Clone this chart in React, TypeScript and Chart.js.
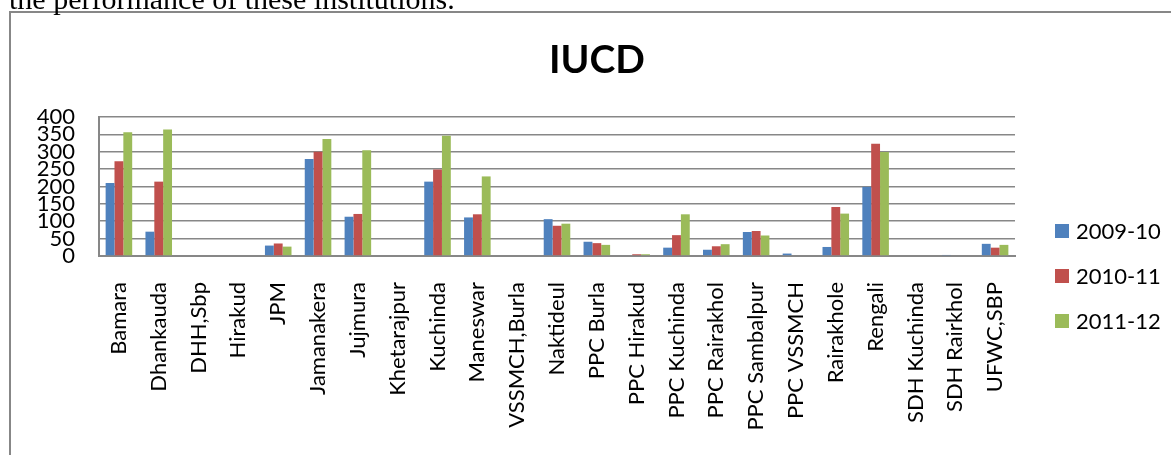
import React, { useEffect, useRef } from 'react';
import { Chart, registerables } from 'chart.js';

Chart.register(...registerables);

// Institutions along the x axis
const categories = [
  'Bamara', 'Dhankauda', 'DHH,Sbp', 'Hirakud', 'JPM', 'Jamanakera', 'Jujmura',
  'Khetarajpur', 'Kuchinda', 'Maneswar', 'VSSMCH,Burla', 'Naktideul', 'PPC Burla',
  'PPC Hirakud', 'PPC Kuchinda', 'PPC Rairakhol', 'PPC Sambalpur', 'PPC VSSMCH',
  'Rairakhole', 'Rengali', 'SDH Kuchinda', 'SDH Rairkhol', 'UFWC,SBP',
];

// IUCD insertions per year
const seriesLabels = ['2009-10', '2010-11', '2011-12'];
const values2009 = [210, 70, 0, 0, 30, 279, 113, 0, 214, 111, 0, 106, 41, 0, 24, 18, 69, 7, 26, 199, 0, 3, 35];
const values2010 = [273, 214, 0, 0, 36, 300, 121, 0, 249, 120, 0, 87, 37, 5, 60, 28, 72, 0, 141, 323, 0, 0, 24];
const values2011 = [356, 364, 0, 0, 27, 337, 304, 0, 346, 229, 0, 93, 32, 5, 120, 34, 59, 0, 122, 299, 0, 0, 32];
const seriesColors = ['#4F81BD', '#C0504D', '#9BBB59'];

const yTickValues = [0, 50, 100, 150, 200, 250, 300, 350, 400];
const chartTitle = 'IUCD';

const CANVAS_W = 1160;
const CANVAS_H = 442;
const PLOT = { left: 88, right: 1004, top: 104, bottom: 243 };
const AXIS_GRAY = '#878787';
const FONT = 'Lato, Calibri, "Noto Sans", sans-serif';

// Title and a right-hand legend column drawn on top of the chart
const titleAndLegend = {
  id: 'titleAndLegend',
  afterDraw(chart: any) {
    const ctx: CanvasRenderingContext2D = chart.ctx;
    ctx.save();
    ctx.fillStyle = '#000';
    ctx.font = `bold 39px ${FONT}`;
    ctx.textAlign = 'center';
    ctx.textBaseline = 'alphabetic';
    ctx.fillText(chartTitle, 586, 60);

    ctx.font = `22px ${FONT}`;
    ctx.textAlign = 'left';
    chart.data.datasets.forEach((ds: any, i: number) => {
      const rowTop = 211 + i * 45;
      ctx.fillStyle = ds.backgroundColor;
      ctx.fillRect(1044, rowTop, 14, 14);
      ctx.fillStyle = '#000';
      ctx.fillText(ds.label, 1065, rowTop + 14.5);
    });
    ctx.restore();
  },
};

export default function App() {
  const canvasRef = useRef<HTMLCanvasElement>(null);

  useEffect(() => {
    const seriesValues = [values2009, values2010, values2011];
    const chart = new Chart(canvasRef.current as HTMLCanvasElement, {
      type: 'bar',
      data: {
        labels: categories,
        datasets: seriesLabels.map((label, i) => ({
          label,
          data: seriesValues[i],
          backgroundColor: seriesColors[i],
          borderWidth: 0,
          barPercentage: 1,
          categoryPercentage: 0.667,
        })),
      },
      options: {
        responsive: false,
        animation: false,
        devicePixelRatio: 1,
        events: [],
        layout: {
          padding: { left: 0, top: PLOT.top, right: CANVAS_W - PLOT.right, bottom: 0 },
        },
        plugins: {
          legend: { display: false },
          title: { display: false },
          tooltip: { enabled: false },
        },
        scales: {
          x: {
            grid: { display: false, drawTicks: false },
            border: { display: true, color: AXIS_GRAY, width: 2 },
            ticks: {
              autoSkip: false,
              minRotation: 90,
              maxRotation: 90,
              padding: 26,
              color: '#000',
              font: { family: FONT, size: 22 },
            },
            afterFit(scale: any) {
              scale.height = CANVAS_H - PLOT.bottom;
            },
          },
          y: {
            min: 0,
            max: 400,
            afterBuildTicks(scale: any) {
              scale.ticks = yTickValues.map((value) => ({ value }));
            },
            ticks: {
              autoSkip: false,
              padding: 24,
              color: '#000',
              font: { family: FONT, size: 22 },
            },
            grid: { color: AXIS_GRAY, lineWidth: 1.6, drawTicks: false },
            border: { display: true, color: AXIS_GRAY, width: 2 },
            afterFit(scale: any) {
              scale.width = PLOT.left;
            },
          },
        },
      },
      plugins: [titleAndLegend],
    } as any);
    return () => chart.destroy();
  }, []);

  return (
    <div style={{ position: 'fixed', inset: 0, overflow: 'hidden', background: '#fff' }}>
      <div
        style={{
          position: 'absolute',
          left: 9,
          top: 11,
          width: 1300,
          height: 600,
          borderLeft: `2px solid ${AXIS_GRAY}`,
          borderTop: `2px solid ${AXIS_GRAY}`,
        }}
      >
        <canvas ref={canvasRef} width={CANVAS_W} height={CANVAS_H} style={{ display: 'block' }} />
      </div>
      <div
        style={{
          position: 'absolute',
          left: 9,
          top: -16,
          font: '30px "Liberation Serif", "Times New Roman", serif',
          lineHeight: 1,
          whiteSpace: 'nowrap',
          color: '#000',
        }}
      >
        the performance of these institutions.
      </div>
    </div>
  );
}
